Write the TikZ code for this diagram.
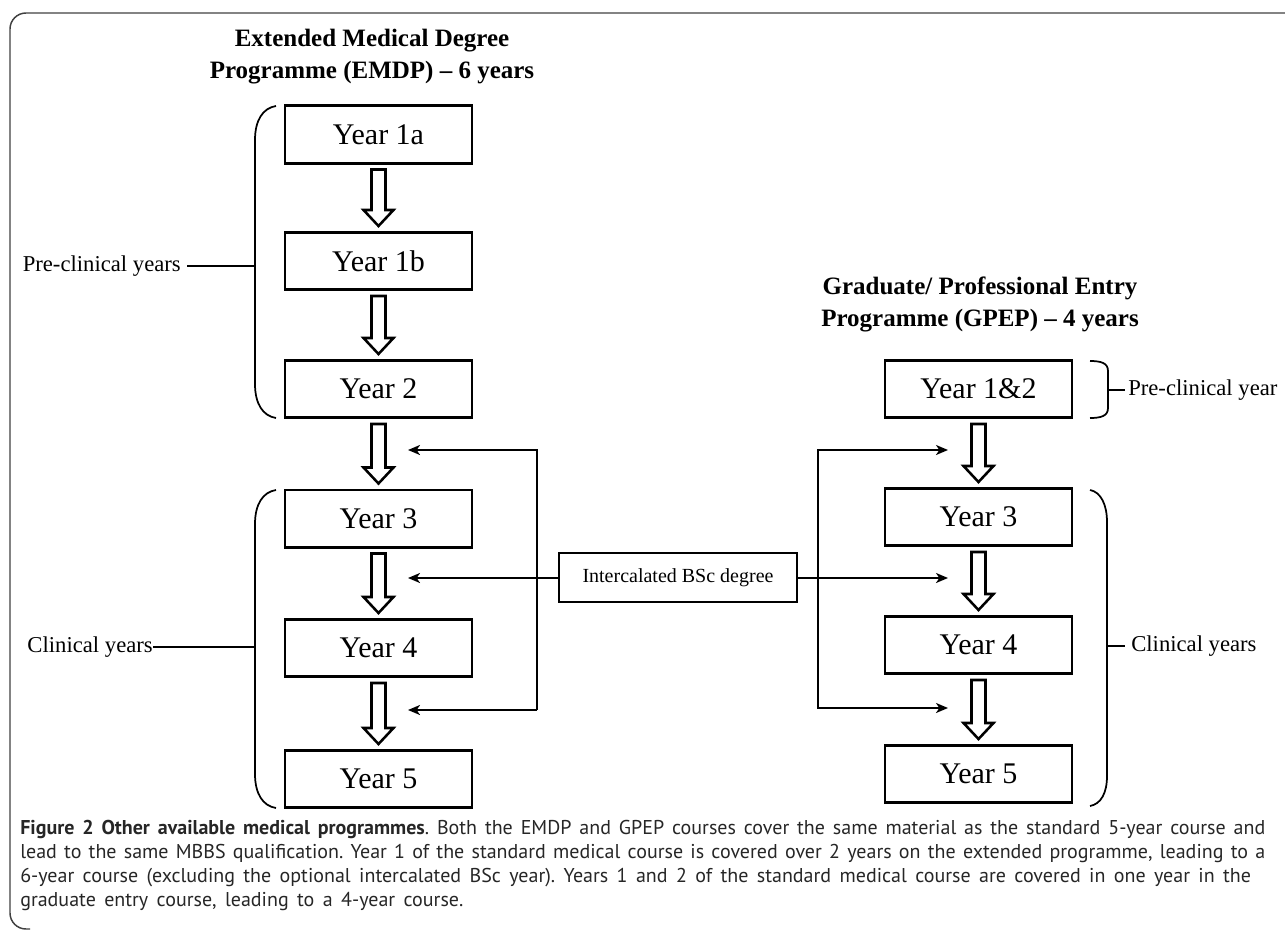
\documentclass[tikz,border=0pt]{standalone}
\usepackage{fontspec}
\setmainfont{Liberation Serif}
\newfontfamily\capfont{PT Sans}
\usetikzlibrary{calc,arrows.meta}
\frenchspacing
\newcommand\capsetup{\capfont\fontsize{15}{19}\selectfont\spaceskip 0.42em plus 0.2em minus 0.08em\relax}
\begin{document}
\begin{tikzpicture}[x=0.75pt,y=-0.75pt,
  yearbox/.style={draw, line width=2pt, minimum width=140.25pt, minimum height=43pt, inner sep=0pt, font=\fontsize{22.5}{26}\selectfont},
  ibbox/.style={draw, line width=2pt, minimum width=178.5pt, minimum height=36.75pt, inner sep=0pt, font=\fontsize{15}{18}\selectfont},
  titletext/.style={font=\fontsize{18.75}{22}\selectfont\bfseries, inner sep=0pt, anchor=base},
  sidelabel/.style={font=\fontsize{17}{20}\selectfont, inner sep=0pt},
  hollow/.style={draw, fill=white, line width=1.9pt, line join=miter},
  arr/.style={line width=1.5pt, -{Stealth[length=9pt,width=7.5pt,inset=2.5pt]}},
  bracestyle/.style={line width=1.3pt},
  tick/.style={line width=1pt},
  captext/.style={font=\capsetup, text=black!85, inner sep=0pt, anchor=base west}
]
\useasboundingbox (0,0) rectangle (1285,931);

% frame
\begin{scope}
\clip (0,0) rectangle (1285,931);
\draw[line width=1.1pt, black!75, rounded corners=12] (1290,13) -- (10,13) -- (10,929) -- (30,929);
\end{scope}

% titles
\node[titletext] (tl1) at (372,47) {Extended Medical Degree};
\node[titletext] (tl2) at (372,79) {Programme (EMDP) – 6 years};
\node[titletext] (tr1) at (980,294) {Graduate/ Professional Entry};
\node[titletext] (tr2) at (980,326) {Programme (GPEP) – 4 years};

% left boxes
\node[yearbox] (l1a) at (378.5,134.5) {Year 1a};
\node[yearbox] (l1b) at (378.5,261) {Year 1b};
\node[yearbox] (l2) at (378.5,389) {Year 2};
\node[yearbox] (l3) at (378.5,518.5) {Year 3};
\node[yearbox] (l4) at (378.5,648) {Year 4};
\node[yearbox] (l5) at (378.5,779) {Year 5};

% right boxes
\node[yearbox] (r12) at (978.5,389) {Year 1\&2};
\node[yearbox] (r3) at (978.5,517) {Year 3};
\node[yearbox] (r4) at (978.5,645) {Year 4};
\node[yearbox] (r5) at (978.5,774) {Year 5};

% intercalated
\node[ibbox] (ib) at (678,577.5) {Intercalated BSc degree};

% hollow arrows
\newcommand\hollowarrow[2]{%
  \draw[hollow] ($(#1.south)+(-7,5)$) -- ($(#1.south)+(7,5)$) -- ($(#2.north)+(7,-21)$) -- ($(#2.north)+(15,-21)$) -- ($(#2.north)+(0,-5)$) -- ($(#2.north)+(-15,-21)$) -- ($(#2.north)+(-7,-21)$) -- cycle;}
\hollowarrow{l1a}{l1b}
\hollowarrow{l1b}{l2}
\hollowarrow{l2}{l3}
\hollowarrow{l3}{l4}
\hollowarrow{l4}{l5}
\hollowarrow{r12}{r3}
\hollowarrow{r3}{r4}
\hollowarrow{r4}{r5}

% intercalated connectors
\coordinate (vLt) at (537,450);
\coordinate (vLb) at (537,710);
\coordinate (vRt) at (818,450);
\coordinate (vRb) at (818,708);
\coordinate (aL1) at (408,450);
\coordinate (aL2) at (408,578);
\coordinate (aL3) at (408,710);
\coordinate (aR1) at (948,450);
\coordinate (aR2) at (948,578);
\coordinate (aR3) at (948,708);
\draw[arr] (vLb) -- (vLt) -- (aL1);
\draw[arr] (vLb) -- (aL3);
\draw[arr] (ib.west |- aL2) -- (aL2);
\draw[arr] (vRb) -- (vRt) -- (aR1);
\draw[arr] (vRt) -- (vRb) -- (aR3);
\draw[arr] (ib.east |- aR2) -- (aR2);

% left braces
\draw[bracestyle] (276,106) .. controls (263,108) and (255,120) .. (255,140) -- (255,384) .. controls (255,404) and (263,416) .. (276,418);
\draw[bracestyle] (276,490) .. controls (263,492) and (255,504) .. (255,524) -- (255,774) .. controls (255,794) and (263,806) .. (276,808);
\coordinate (bLp) at (255,266);
\coordinate (bLc) at (255,647);
\node[sidelabel, anchor=east] (lpre) at (181,266) {Pre-clinical years};
\node[sidelabel, anchor=east] (lcl) at (153,647) {Clinical years};
\draw[tick] (lpre.east) ++(6,0) -- (bLp);
\draw[tick] (lcl.east) -- (bLc);

% right braces
\draw[bracestyle] (1090,361) .. controls (1101,361) and (1108,363) .. (1108,371) -- (1108,408) .. controls (1108,416) and (1101,418) .. (1090,418);
\draw[bracestyle] (1090,490) .. controls (1101,492) and (1107,505) .. (1107,522) -- (1107,776) .. controls (1107,793) and (1101,804) .. (1090,806);
\coordinate (bRp) at (1108,390);
\coordinate (bRc) at (1107,646);
\node[sidelabel, anchor=west] (rpre) at (1128,390) {Pre-clinical year};
\node[sidelabel, anchor=west] (rcl) at (1131,646) {Clinical years};
\draw[tick] (bRp) -- ($(rpre.west)+(-3,0)$);
\draw[tick] (bRc) -- ($(rcl.west)+(-6,0)$);

% caption
\node[captext] (c1) at (20,834) {\makebox[933.75pt][s]{\textbf{Figure 2 Other available medical programmes}. Both the EMDP and GPEP courses cover the same material as the standard 5-year course and}};
\node[captext] (c2) at (20,858) {\makebox[933.75pt][s]{lead to the same MBBS qualification. Year 1 of the standard medical course is covered over 2 years on the extended programme, leading to a}};
\node[captext] (c3) at (20,882) {6-year course (excluding the optional intercalated BSc year). Years 1 and 2 of the standard medical course are covered in one year in the};
\node[captext] (c4) at (20,906) {graduate entry course, leading to a 4-year course.};
\end{tikzpicture}
\end{document}
